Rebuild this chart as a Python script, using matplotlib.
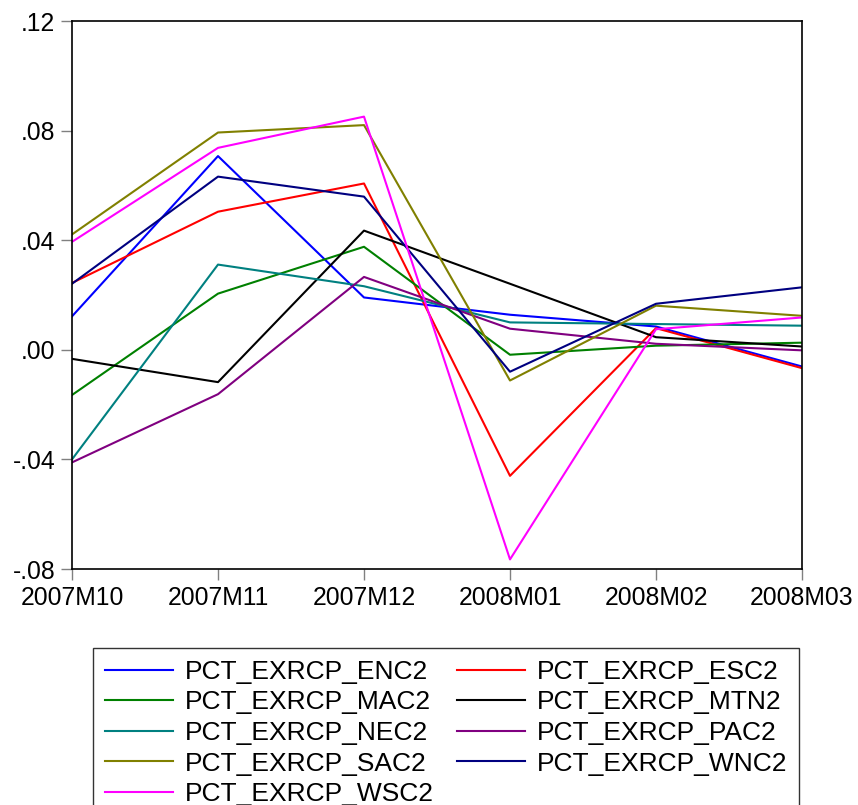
import matplotlib
matplotlib.use("Agg")
import matplotlib.pyplot as plt
from matplotlib.ticker import FixedLocator

plt.rcParams['font.family'] = ['Liberation Sans', 'DejaVu Sans']

periods = ["2007M10", "2007M11", "2007M12", "2008M01", "2008M02", "2008M03"]

enc2 = [0.0122, 0.0707, 0.0191, 0.0128, 0.0085, -0.0061]
esc2 = [0.0244, 0.0504, 0.0607, -0.0460, 0.0079, -0.0067]
mac2 = [-0.0165, 0.0205, 0.0376, -0.0018, 0.0015, 0.0026]
mtn2 = [-0.0033, -0.0118, 0.0435, 0.0241, 0.0046, 0.0012]
nec2 = [-0.0400, 0.0311, 0.0232, 0.0100, 0.0094, 0.0088]
pac2 = [-0.0411, -0.0162, 0.0266, 0.0077, 0.0022, -0.0002]
sac2 = [0.0421, 0.0793, 0.0820, -0.0112, 0.0161, 0.0124]
wnc2 = [0.0241, 0.0632, 0.0559, -0.0080, 0.0168, 0.0228]
wsc2 = [0.0394, 0.0737, 0.0851, -0.0765, 0.0075, 0.0118]

series = [
    ("PCT_EXRCP_ENC2", enc2, "#0000ff"),
    ("PCT_EXRCP_ESC2", esc2, "#ff0000"),
    ("PCT_EXRCP_MAC2", mac2, "#008000"),
    ("PCT_EXRCP_MTN2", mtn2, "#000000"),
    ("PCT_EXRCP_NEC2", nec2, "#008080"),
    ("PCT_EXRCP_PAC2", pac2, "#800080"),
    ("PCT_EXRCP_SAC2", sac2, "#808000"),
    ("PCT_EXRCP_WNC2", wnc2, "#000080"),
    ("PCT_EXRCP_WSC2", wsc2, "#ff00ff"),
]

yticks = [-0.08, -0.04, 0.0, 0.04, 0.08, 0.12]
ytick_labels = ["-.08", "-.04", ".00", ".04", ".08", ".12"]

fig = plt.figure(figsize=(8.58, 8.05), dpi=100)
ax = fig.add_axes([72/858, 1-569/805, (802-72)/858, (569-21)/805])

x = list(range(len(periods)))
handles = {}
for name, vals, col in series:
    h, = ax.plot(x, vals, color=col, lw=1.5, label=name)
    handles[name] = h

ax.set_xlim(0, len(periods)-1)
ax.set_ylim(-0.08, 0.12)
ax.set_xticks(x)
ax.set_xticklabels(periods)
ax.yaxis.set_major_locator(FixedLocator(yticks))
ax.set_yticklabels(ytick_labels)
ax.tick_params(axis='both', direction='out', length=8, width=1, color='#808080',
               labelsize=17.8, pad=4)
for s in ax.spines.values():
    s.set_linewidth(1.2)
    s.set_color('black')

# legend: row-wise order, two columns
order = ["PCT_EXRCP_ENC2", "PCT_EXRCP_MAC2", "PCT_EXRCP_NEC2", "PCT_EXRCP_SAC2", "PCT_EXRCP_WSC2",
         "PCT_EXRCP_ESC2", "PCT_EXRCP_MTN2", "PCT_EXRCP_PAC2", "PCT_EXRCP_WNC2"]
leg = fig.legend([handles[n] for n in order], order, ncol=2,
                 loc='upper left', bbox_to_anchor=(93/858, 1-648/805),
                 fontsize=19, frameon=True, fancybox=False, edgecolor='black',
                 handlelength=2.6, handletextpad=0.42, columnspacing=0.88,
                 labelspacing=0.25, borderpad=0.45, borderaxespad=0)
leg.get_frame().set_linewidth(1.0)
for line in leg.get_lines():
    line.set_linewidth(1.5)

fig.savefig("out.png", dpi=100)
